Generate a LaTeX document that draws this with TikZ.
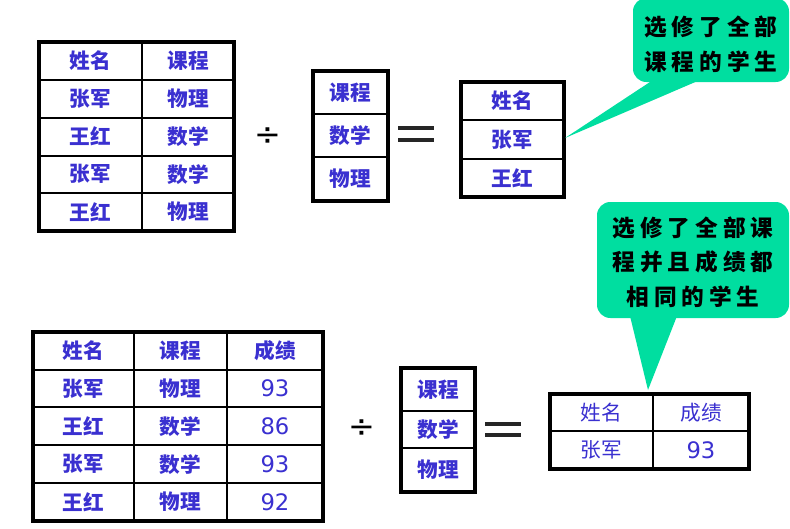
\documentclass[tikz,border=0pt]{standalone}
\usepackage{fontspec}
\newfontfamily\cjk{Noto Sans CJK SC}
\newfontfamily\tipfont[LetterSpace=22]{Noto Sans CJK SC}
\newfontfamily\numfont{DejaVu Sans}
\definecolor{tblue}{RGB}{58,48,208}
\definecolor{tipgreen}{RGB}{0,222,160}
\tikzset{
	frame/.style={line width=2.6pt},
	grid/.style={line width=0.9pt},
	cell/.style={text=tblue, font=\cjk\bfseries\fontsize{15.5}{17}\selectfont},
	plaincell/.style={text=tblue, font=\cjk\fontsize{15.5}{17}\selectfont},
	num/.style={text=tblue, font=\numfont\fontsize{17}{19}\selectfont},
	opsign/.style={font=\numfont\fontsize{24}{26}\selectfont},
	eqline/.style={line width=3pt, black!85},
	tip/.style={fill=tipgreen, rounded corners=10pt},
	tiptext/.style={font=\tipfont\bfseries\fontsize{17}{26}\selectfont, align=center}
}

\begin{document}
\begin{tikzpicture}[x=0.75pt, y=-0.75pt]
	\useasboundingbox (0,0) rectangle (790,529);

	% Table 1: name / course
	\foreach \y in {80,118,156,193} \draw[grid] (39,\y) -- (234,\y);
	\draw[grid] (142,42) -- (142,231);
	\draw[frame] (39,42) rectangle (234,231);
	\foreach \sname/\course [count=\i] in {姓名/课程, 张军/物理, 王红/数学, 张军/数学, 王红/物理} {
			\node[cell] (a\i1) at (90.5, 23.1+37.8*\i) {\sname};
			\node[cell] (a\i2) at (188, 23.1+37.8*\i) {\course};
		}

	% Divide and equals
	\node[opsign] (div1) at (268,137) {÷};
	\draw[eqline] (398,128) -- (434,128);
	\draw[eqline] (398,140) -- (434,140);

	% Table 2: courses
	\draw[grid] (313,114) -- (388,114);
	\draw[grid] (313,157) -- (388,157);
	\draw[frame] (313,71) rectangle (388,201);
	\foreach \course/\y [count=\i] in {课程/92.5, 数学/135.5, 物理/179}
	\node[cell] (b\i) at (350.5,\y) {\course};

	% Table 3: result
	\draw[grid] (461,120) -- (564,120);
	\draw[grid] (461,159) -- (564,159);
	\draw[frame] (461,82) rectangle (564,197);
	\foreach \sname/\y [count=\i] in {姓名/101, 张军/139.5, 王红/178}
	\node[cell] (c\i) at (512.5,\y) {\sname};

	% Callout 1
	\coordinate (tip1) at (565,138);
	\fill[tipgreen] (653,80) -- (tip1) -- (700,80) -- cycle;
	\fill[tip] (633,-2) rectangle (789,82);
	\node[tiptext] (note1) at (711,44) {选修了全部\\课程的学生};

	% Table 4: name / course / grade
	\foreach \y in {370,407,445,483} \draw[grid] (33,\y) -- (323,\y);
	\draw[grid] (134,332) -- (134,521);
	\draw[grid] (227,332) -- (227,521);
	\draw[frame] (33,332) rectangle (323,521);
	\node[cell] (d11) at (83.5,351) {姓名};
	\node[cell] (d12) at (180.5,351) {课程};
	\node[cell] (d13) at (275,351) {成绩};
	\foreach \sname/\course/\grade [count=\i from 2] in {张军/物理/93, 王红/数学/86, 张军/数学/93, 王红/物理/92} {
			\node[cell] (d\i1) at (83.5, 313+37.8*\i) {\sname};
			\node[cell] (d\i2) at (180.5, 313+37.8*\i) {\course};
			\node[num] (d\i3) at (275, 313+37.8*\i) {\grade};
		}

	% Divide and equals
	\node[opsign] (div2) at (362,429) {÷};
	\draw[eqline] (485,424) -- (521,424);
	\draw[eqline] (485,435) -- (521,435);

	% Table 5: courses
	\draw[grid] (401,411) -- (475,411);
	\draw[grid] (401,448) -- (475,448);
	\draw[frame] (401,368) rectangle (475,492);
	\foreach \course/\y [count=\i] in {课程/389.5, 数学/429.5, 物理/470}
	\node[cell] (e\i) at (438,\y) {\course};

	% Table 6: result
	\draw[grid] (550,431) -- (749,431);
	\draw[grid] (653,394) -- (653,469);
	\draw[frame] (550,394) rectangle (749,469);
	\node[plaincell] (f11) at (601.5,412.5) {姓名};
	\node[plaincell] (f12) at (701,412.5) {成绩};
	\node[plaincell] (f21) at (601.5,450) {张军};
	\node[num] (f22) at (701,450) {93};

	% Callout 2
	\coordinate (tip2) at (648,390);
	\fill[tipgreen] (630,316) -- (tip2) -- (677,316) -- cycle;
	\fill[tip] (597,202) rectangle (789,318);
	\node[tiptext] (note2) at (693,262) {选修了全部课\\程并且成绩都\\相同的学生};
\end{tikzpicture}
\end{document}
